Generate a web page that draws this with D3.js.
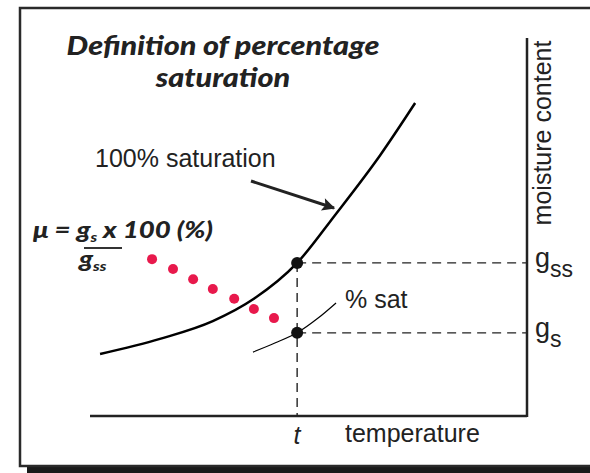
<html>
<head>
<script src="https://d3js.org/d3.v7.min.js"></script>
<style>
body { margin: 0; background: #fff; }
text { font-family: "Liberation Sans", Arial, sans-serif; fill: #222; }
.gill { font-family: Lato, "Open Sans", sans-serif; font-weight: 900; font-style: italic; }
</style>
</head>
<body>
<svg id="chart" width="590" height="473"></svg>
<script>
// values (temperature 0-100, moisture 0-100)
var satCurve = [[2.3,16.4],[16.0,20.4],[28.1,25.1],[37.5,31.0],[47.4,40.5],[56.1,53.2],[66.4,69.0],[74.4,82.8]];
var pctCurve = [[37.3,16.9],[42.3,19.3],[47.4,22.0],[52.2,25.9],[56.3,29.9]];
var redDots = [[14.2,41.5],[19.0,38.9],[23.6,36.2],[28.1,33.6],[33.0,31.0],[37.5,28.3],[42.1,25.9]];
var tTemp = 47.4;
var gss = 40.5;
var gs = 22.0;

var svg = d3.select("#chart");

// frame with shadow
svg.append("rect").attr("x", 27).attr("y", 15).attr("width", 600).attr("height", 460).attr("fill", "#1a1a1a");
svg.append("rect").attr("x", 20).attr("y", 8).attr("width", 600).attr("height", 458)
  .attr("fill", "#fff").attr("stroke", "#2a2a2a").attr("stroke-width", 2.5);

var x = d3.scaleLinear().domain([0, 100]).range([90, 527]);
var y = d3.scaleLinear().domain([0, 100]).range([416, 38]);

// axes
svg.append("line").attr("x1", x(0)).attr("x2", x(100)).attr("y1", y(0)).attr("y2", y(0))
  .attr("stroke", "#222").attr("stroke-width", 2.5);
svg.append("line").attr("x1", x(100)).attr("x2", x(100)).attr("y1", y(0) + 1).attr("y2", y(100))
  .attr("stroke", "#222").attr("stroke-width", 2.5);

// dashed guides
var dash = "9,6";
svg.append("line").attr("x1", x(tTemp)).attr("x2", x(100)).attr("y1", y(gss)).attr("y2", y(gss))
  .attr("stroke", "#222").attr("stroke-width", 1.4).attr("stroke-dasharray", dash);
svg.append("line").attr("x1", x(tTemp)).attr("x2", x(100)).attr("y1", y(gs)).attr("y2", y(gs))
  .attr("stroke", "#222").attr("stroke-width", 1.4).attr("stroke-dasharray", dash);
svg.append("line").attr("x1", x(tTemp)).attr("x2", x(tTemp)).attr("y1", y(gss)).attr("y2", y(0))
  .attr("stroke", "#222").attr("stroke-width", 1.4).attr("stroke-dasharray", dash);

var line = d3.line().x(function (d) { return x(d[0]); }).y(function (d) { return y(d[1]); })
  .curve(d3.curveMonotoneX);

svg.append("path").attr("d", line(satCurve)).attr("fill", "none").attr("stroke", "#000").attr("stroke-width", 2.5);
svg.append("path").attr("d", line(pctCurve)).attr("fill", "none").attr("stroke", "#000").attr("stroke-width", 1.2);

svg.selectAll("circle.red").data(redDots).enter().append("circle").attr("class", "red")
  .attr("cx", function (d) { return x(d[0]); }).attr("cy", function (d) { return y(d[1]); })
  .attr("r", 5).attr("fill", "#e8194c");

svg.selectAll("circle.pt").data([gss, gs]).enter().append("circle").attr("class", "pt")
  .attr("cx", x(tTemp)).attr("cy", function (d) { return y(d); })
  .attr("r", 6).attr("fill", "#111");

// arrow
svg.append("defs").append("marker").attr("id", "arr").attr("viewBox", "0 0 10 10")
  .attr("refX", 9).attr("refY", 5).attr("markerWidth", 20).attr("markerHeight", 13)
  .attr("markerUnits", "userSpaceOnUse").attr("orient", "auto")
  .append("path").attr("d", "M0,0 L10,5 L0,10 L2,5 Z").attr("fill", "#222");
svg.append("line").attr("x1", 251).attr("y1", 181).attr("x2", 334).attr("y2", 208)
  .attr("stroke", "#222").attr("stroke-width", 3).attr("marker-end", "url(#arr)");

// stretch a text horizontally so it spans the wanted width
function stretch(sel, ax, sx) {
  sel.attr("transform", "translate(" + ax + ",0) scale(" + sx + ",1) translate(" + (-ax) + ",0)");
}

// title
var t1 = svg.append("text").attr("class", "gill").attr("x", 223).attr("y", 55).attr("text-anchor", "middle")
  .style("font-size", "26px").text("Definition of percentage");
var t2 = svg.append("text").attr("class", "gill").attr("x", 223).attr("y", 87).attr("text-anchor", "middle")
  .style("font-size", "26px").text("saturation");
var sxT = 313 / t1.node().getComputedTextLength();
stretch(t1, 223, sxT);
stretch(t2, 223, sxT);

svg.append("text").attr("x", 95).attr("y", 167).style("font-size", "25px").text("100% saturation");
svg.append("text").attr("x", 345).attr("y", 308).style("font-size", "25px").text("% sat");
svg.append("text").attr("x", 345).attr("y", 442).style("font-size", "25px").text("temperature");
svg.append("text").attr("x", 297).attr("y", 444).attr("text-anchor", "middle")
  .style("font-size", "25px").style("font-style", "italic").text("t");
svg.append("text").attr("transform", "translate(551,133) rotate(-90)").attr("text-anchor", "middle")
  .style("font-size", "25px").text("moisture content");

var lg = svg.append("text").attr("x", 535).attr("y", y(gss) + 4).style("font-size", "27px");
lg.append("tspan").text("g");
lg.append("tspan").attr("dy", 10).style("font-size", "23px").text("ss");
var ls = svg.append("text").attr("x", 535).attr("y", y(gs) + 4).style("font-size", "27px");
ls.append("tspan").text("g");
ls.append("tspan").attr("dy", 10).style("font-size", "23px").text("s");

// formula
var f = svg.append("text").attr("class", "gill").attr("x", 33).attr("y", 238).style("font-size", "22px");
f.append("tspan").text("\u03bc = g");
f.append("tspan").attr("dy", 4).style("font-size", "13px").text("s");
f.append("tspan").attr("dy", -4).text(" x 100 (%)");
var sxF = 180 / f.node().getComputedTextLength();
stretch(f, 33, sxF);
svg.append("line").attr("x1", 84).attr("x2", 122).attr("y1", 248).attr("y2", 248)
  .attr("stroke", "#333").attr("stroke-width", 2);
var f2 = svg.append("text").attr("class", "gill").attr("x", 79).attr("y", 267).style("font-size", "22px");
f2.append("tspan").text("g");
f2.append("tspan").attr("dy", 4).style("font-size", "13px").text("ss");
stretch(f2, 79, sxF);
</script>
</body>
</html>
